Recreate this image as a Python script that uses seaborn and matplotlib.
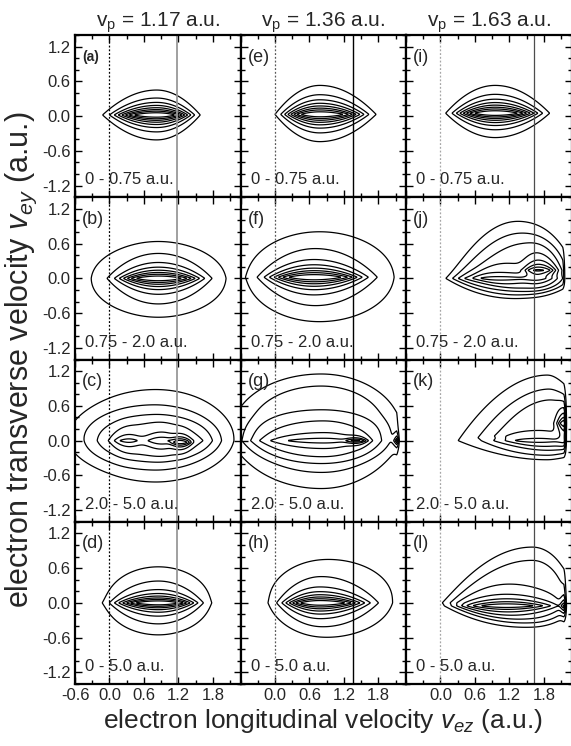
import numpy as np
import matplotlib
matplotlib.use("Agg")
import matplotlib.pyplot as plt
from matplotlib.ticker import MultipleLocator, FormatStrFormatter
import seaborn as sns

## DATA
# projectile velocities (one per column) and energy windows (one per row)
vp = [1.17, 1.36, 1.63]
energy_windows = ["0 - 0.75 a.u.", "0.75 - 2.0 a.u.", "2.0 - 5.0 a.u.", "0 - 5.0 a.u."]
letters = [["a", "e", "i"], ["b", "f", "j"], ["c", "g", "k"], ["d", "h", "l"]]

# contour levels (relative yield)
levels = [0.08, 0.18, 0.28, 0.38, 0.48, 0.58, 0.68, 0.80]

# each panel: list of lobes
# (kind, x centre, y centre, left reach, right reach, lower reach, upper reach, height)
panel_a = [("lens", 0.82, 0.02, 0.94, 0.76, 0.43, 0.43, 1.0)]
panel_e = [("lens", 0.78, 0.03, 0.78, 0.98, 0.47, 0.50, 1.0)]
panel_i = [("lens", 0.95, 0.05, 0.86, 0.95, 0.42, 0.48, 1.0)]

panel_b = [("oval", 0.85, -0.02, 1.20, 1.20, 0.65, 0.65, 0.14),
           ("lens", 0.85, 0.00, 0.85, 0.90, 0.36, 0.36, 0.86)]
panel_f = [("oval", 0.80, 0.03, 1.30, 1.30, 0.78, 0.78, 0.14),
           ("lens", 0.68, 0.02, 0.98, 1.05, 0.40, 0.40, 0.86)]
panel_j = [("fan", 1.30, 0.00, 1.14, 0.88, 0.33, 0.98, 0.14),
           ("fan", 1.45, 0.00, 1.10, 0.75, 0.28, 0.82, 0.10),
           ("fan", 1.55, 0.02, 0.95, 0.65, 0.22, 0.60, 0.10),
           ("lens", 1.00, 0.00, 0.80, 1.00, 0.18, 0.18, 0.30),
           ("lens", 1.72, 0.14, 0.30, 0.35, 0.20, 0.25, 0.45)]

panel_c = [("oval", 0.80, 0.08, 1.45, 1.35, 0.80, 0.82, 0.14),
           ("oval", 0.75, 0.03, 1.30, 1.15, 0.50, 0.55, 0.10),
           ("oval", 0.80, 0.03, 0.97, 0.95, 0.35, 0.38, 0.10),
           ("lens", 0.80, 0.00, 0.75, 0.85, 0.20, 0.20, 0.20),
           ("lens", 0.28, 0.00, 0.18, 0.18, 0.07, 0.07, 0.15),
           ("lens", 0.92, 0.00, 0.20, 0.20, 0.07, 0.07, 0.15),
           ("lens", 1.25, -0.03, 0.20, 0.20, 0.12, 0.12, 0.45)]
panel_g = [("oval", 0.80, 0.15, 1.50, 1.30, 1.00, 1.00, 0.14),
           ("oval", 0.80, 0.23, 1.30, 1.25, 0.73, 0.75, 0.10),
           ("oval", 0.80, 0.06, 1.20, 1.15, 0.42, 0.42, 0.10),
           ("lens", 0.85, 0.00, 1.25, 0.85, 0.24, 0.24, 0.30),
           ("lens", 1.44, 0.00, 0.22, 0.18, 0.06, 0.06, 0.35),
           ("lens", 2.20, 0.00, 0.15, 0.10, 0.20, 0.20, 0.60)]
panel_k = [("fan", 1.85, 0.00, 1.57, 0.50, 0.33, 1.15, 0.14),
           ("fan", 1.90, 0.05, 1.22, 0.45, 0.30, 0.85, 0.10),
           ("fan", 1.95, 0.08, 0.95, 0.40, 0.22, 0.65, 0.10),
           ("lens", 1.70, 0.00, 0.70, 0.60, 0.08, 0.10, 0.20),
           ("lens", 2.20, 0.30, 0.20, 0.10, 0.35, 0.35, 0.50)]

panel_d = [("oval", 0.85, 0.03, 0.90, 0.91, 0.58, 0.60, 0.14),
           ("lens", 0.85, 0.00, 0.88, 0.78, 0.30, 0.30, 0.86)]
panel_h = [("oval", 0.95, 0.08, 1.06, 1.12, 0.66, 0.68, 0.14),
           ("lens", 0.78, 0.00, 0.75, 0.98, 0.36, 0.36, 0.86)]
panel_l = [("fan", 1.60, 0.00, 1.53, 0.65, 0.40, 0.98, 0.14),
           ("fan", 1.60, 0.00, 1.35, 0.62, 0.32, 0.75, 0.10),
           ("lens", 1.15, -0.05, 1.00, 1.05, 0.25, 0.28, 0.55),
           ("lens", 2.20, -0.05, 0.12, 0.10, 0.25, 0.25, 0.40)]

panels = [[panel_a, panel_e, panel_i],
          [panel_b, panel_f, panel_j],
          [panel_c, panel_g, panel_k],
          [panel_d, panel_h, panel_l]]

# detector edge on the high-velocity side (None = no edge inside the frame)
edges = [[None, None, None],
         [None, None, 2.18],
         [None, 2.17, 2.20],
         [None, None, 2.20]]


## FIELD
def lens_s(dx, dy, ex, ey, q=0.35):
    # lens shaped level index: |dy| = ey*s*(1 - (dx/(ex*s^q))^2)
    ady = np.abs(dy)
    lo = np.zeros_like(dx)
    hi = np.full_like(dx, 30.0)
    for _ in range(45):
        mid = 0.5 * (lo + hi)
        F = ey * mid * (1 - (dx / (ex * mid ** q)) ** 2)
        below = F < ady
        lo = np.where(below, mid, lo)
        hi = np.where(below, hi, mid)
    return 0.5 * (lo + hi)


def lobe(X, Y, kind, x0, y0, exl, exr, eyd, eyu, amp):
    dx = X - x0
    dy = Y - y0
    ex = np.where(dx < 0, exl, exr)
    ey = np.where(dy < 0, eyd, eyu)
    if kind == "lens":
        s = lens_s(dx, dy, ex, ey)
        return amp * np.exp(-np.log(amp / levels[0]) * s)
    if kind == "oval":
        s = np.sqrt((dx / ex) ** 2 + (dy / ey) ** 2)
    else:
        # pointed on the left, rounded on the right
        s = np.where(dx < 0, np.abs(dy / ey) + (dx / ex) ** 2,
                     np.sqrt((dx / ex) ** 2 + (dy / ey) ** 2))
    return amp * 0.5 ** (s ** 6)


xg = np.linspace(-0.7, 2.4, 320)
yg = np.linspace(-1.5, 1.5, 300)
X, Y = np.meshgrid(xg, yg)

## PLOT
sns.set_theme(style="ticks")
plt.rcParams['font.family'] = ['Liberation Sans', 'DejaVu Sans']
plt.rcParams['mathtext.fontset'] = 'custom'
plt.rcParams['mathtext.rm'] = 'Liberation Sans'
plt.rcParams['mathtext.it'] = 'Liberation Sans:italic'

fig = plt.figure(figsize=(5.71, 7.46), dpi=100)
left, top = 75 / 571, 1 - 35 / 746
w, h = 165.5 / 571, 162.25 / 746

line_styles = [("0.6", 1.3, "black"), ("black", 1.0, "0.35"), ("0.3", 0.9, "0.65")]

for r in range(4):
    for c in range(3):
        ax = fig.add_axes([left + c * w, top - (r + 1) * h, w, h])
        Z = np.zeros_like(X)
        for comp in panels[r][c]:
            Z += lobe(X, Y, *comp)
        if edges[r][c] is not None:
            Z *= np.clip((edges[r][c] - X) / 0.05, 0, 1)
        ax.contour(X, Y, Z, levels=levels, colors="black", linewidths=0.9)

        vcol, vlw, dcol = line_styles[c]
        ax.axvline(0.0, color=dcol, lw=0.9, ls=(0, (1.5, 1.5)))
        ax.axvline(vp[c], color=vcol, lw=vlw)

        ax.set_xlim(-0.6, 2.28)
        ax.set_ylim(-1.4, 1.4)
        ax.xaxis.set_major_locator(MultipleLocator(0.6))
        ax.xaxis.set_minor_locator(MultipleLocator(0.3))
        ax.yaxis.set_major_locator(MultipleLocator(0.6))
        ax.yaxis.set_minor_locator(MultipleLocator(0.2))
        ax.yaxis.set_major_formatter(FormatStrFormatter("%.1f"))
        ax.xaxis.set_major_formatter(FormatStrFormatter("%.1f"))
        ax.tick_params(which="both", direction="in", top=True, right=True,
                       labelsize=12, pad=3, color="black", width=1.0)
        ax.tick_params(which="major", length=5)
        ax.tick_params(which="minor", length=3)
        for sp in ax.spines.values():
            sp.set_linewidth(1.6)
            sp.set_color("black")

        if c > 0:
            ax.tick_params(labelleft=False)
        if r < 3:
            ax.tick_params(labelbottom=False)
        elif c > 0:
            ax.set_xticks([0.0, 0.6, 1.2, 1.8])

        first = (r == 0 and c == 0)
        ax.text(-0.48, 1.02, "(" + letters[r][c] + ")", fontsize=10 if first else 13,
                fontweight="bold" if first else "normal", va="center", ha="left")
        ax.text(-0.42, -1.1, energy_windows[r], fontsize=12, va="center", ha="left")

        if r == 0:
            ax.set_title(r"v$_\mathregular{p}$ = %.2f a.u." % vp[c], fontsize=15, pad=6)

fig.text(0.037, (top + top - 4 * h) / 2, r"electron transverse velocity $v_{ey}$ (a.u.)",
         rotation=90, fontsize=22, va="center", ha="center")
fig.text(left + 1.5 * w, 1 - 728 / 746, r"electron longitudinal velocity $v_{ez}$ (a.u.)",
         fontsize=19, va="baseline", ha="center")

fig.savefig("out.png", dpi=100)
